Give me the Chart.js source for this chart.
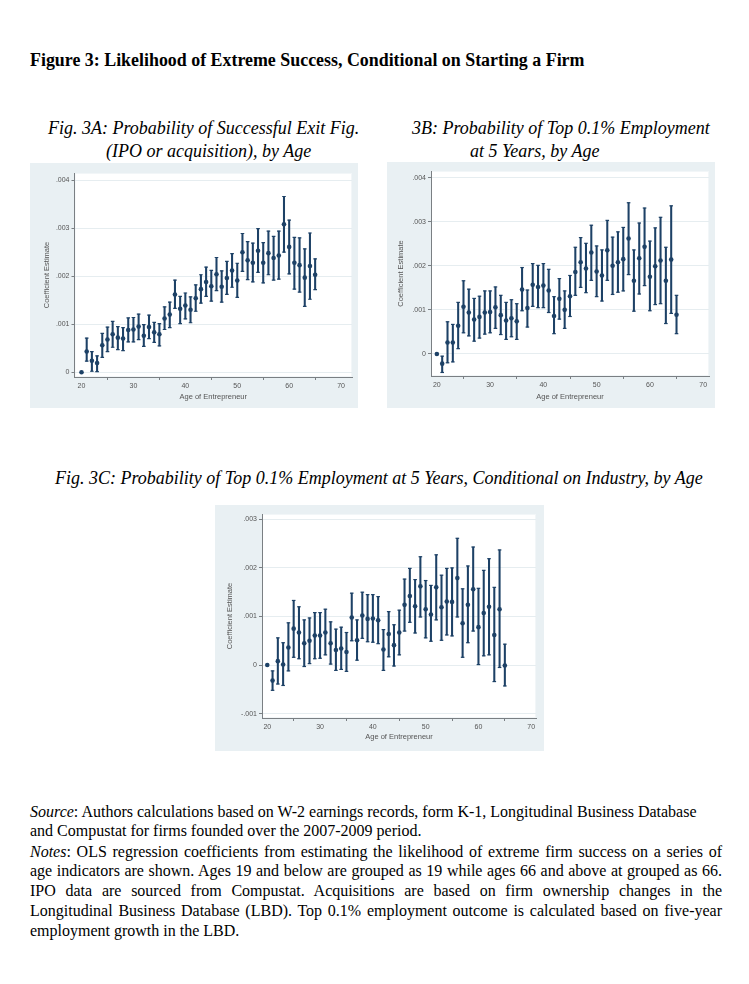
<!DOCTYPE html>
<html>
<head>
<meta charset="utf-8">
<script src="https://cdn.jsdelivr.net/npm/chart.js@4.4.0/dist/chart.umd.min.js"></script>
<style>
  body { margin: 0; background: #fff; width: 749px; height: 984px; position: relative; overflow: hidden; }
  .t { position: absolute; font-family: "Liberation Serif", "Times New Roman", serif; color: #000; white-space: nowrap; }
  .it { font-style: italic; font-size: 18px; line-height: 20px; }
  .note { font-size: 16px; line-height: 20px; left: 30px; width: 692px; }
  .just { text-align: justify; text-align-last: justify; }
  canvas { position: absolute; background: #e9f0f3; }
</style>
</head>
<body>

<div class="t" style="left:30px; top:50px; font-size:17.9px; font-weight:bold; line-height:20px;">Figure 3: Likelihood of Extreme Success, Conditional on Starting a Firm</div>

<div class="t it" style="left:48px; top:118px;">Fig. 3A: Probability of Successful Exit Fig.</div>
<div class="t it" style="left:106px; top:141px;">(IPO or acquisition), by Age</div>
<div class="t it" style="left:412px; top:118px;">3B: Probability of Top 0.1% Employment</div>
<div class="t it" style="left:470px; top:141px;">at 5 Years, by Age</div>
<div class="t it" style="left:55px; top:468px;">Fig. 3C: Probability of Top 0.1% Employment at 5 Years, Conditional on Industry, by Age</div>

<canvas id="chartA" width="328" height="245" style="left:30px; top:163px;"></canvas>
<canvas id="chartB" width="328" height="246" style="left:387px; top:162px;"></canvas>
<canvas id="chartC" width="329" height="246" style="left:215px; top:505px;"></canvas>

<div class="t note" style="top:802px;"><i>Source</i>: Authors calculations based on W-2 earnings records, form K-1, Longitudinal Business Database</div>
<div class="t note" style="top:821px;">and Compustat for firms founded over the 2007-2009 period.</div>
<div class="t note just" style="top:842px;"><i>Notes</i>: OLS regression coefficients from estimating the likelihood of extreme firm success on a series of</div>
<div class="t note just" style="top:861px;">age indicators are shown. Ages 19 and below are grouped as 19 while ages 66 and above at grouped as 66.</div>
<div class="t note just" style="top:881px;">IPO data are sourced from Compustat. Acquisitions are based on firm ownership changes in the</div>
<div class="t note just" style="top:901px;">Longitudinal Business Database (LBD). Top 0.1% employment outcome is calculated based on five-year</div>
<div class="t note" style="top:921px;">employment growth in the LBD.</div>

<script>
const ages = [20, 21, 22, 23, 24, 25, 26, 27, 28, 29, 30, 31, 32, 33, 34, 35, 36, 37, 38, 39, 40, 41, 42,
  43, 44, 45, 46, 47, 48, 49, 50, 51, 52, 53, 54, 55, 56, 57, 58, 59, 60, 61, 62, 63, 64, 65];
const xTicks = [20, 30, 40, 50, 60, 70];

// 3A: successful exit
const aEst = [0, .00043, .00024, .00019, .00056, .00068, .00079, .00072, .0007, .00088, .00089, .00095, .00076,
  .00094, .00083, .00079, .00112, .0012, .00162, .00132, .00139, .0013, .00154, .00173, .00188, .00179,
  .00204, .00178, .00196, .00212, .00191, .0025, .00233, .00228, .00253, .00228, .00248, .00238, .00243,
  .00308, .00261, .00228, .00223, .00197, .00221, .00203];
const aLo = [null, .00023, .00002, .00001, .00031, .00043, .00052, .00047, .00045, .00063, .00063, .00068, .00054,
  .0007, .00062, .00055, .00089, .00093, .00133, .00101, .00111, .00103, .00127, .00144, .00158, .00148,
  .0017, .00146, .00162, .00177, .00156, .0021, .00193, .00188, .00208, .00186, .00203, .00192, .00194,
  .0025, .00205, .00173, .00167, .00137, .00152, .00172];
const aHi = [null, .00071, .00043, .00034, .00081, .00094, .00106, .00095, .00093, .00113, .00114, .00121, .00099,
  .00119, .00104, .00101, .00136, .00146, .00192, .00158, .00165, .00157, .00182, .00203, .00219, .00212,
  .00239, .00211, .00231, .00247, .00227, .00289, .00272, .00269, .00299, .0027, .00294, .00283, .00294,
  .00366, .00317, .00281, .0028, .00257, .0029, .00236];
const aTicks = [0, .001, .002, .003, .004];

// 3B: top 0.1% employment at 5 years
const bEst = [0, -.00022, .00026, .00026, .00064, .00107, .00094, .00078, .00084, .00094, .00095, .00106, .00088,
  .00076, .00081, .00074, .00146, .00104, .00157, .00152, .00155, .00144, .00086, .00125, .001, .00131,
  .00186, .00208, .00194, .0023, .00187, .00178, .00235, .002, .00208, .00215, .00262, .00166, .00217,
  .00243, .00175, .00199, .00212, .00166, .00214, .00089];
const bLo = [null, -.00042, -.0002, -.00018, .00012, .00048, .00041, .00029, .00036, .00045, .00048, .00058, .00044,
  .00033, .00039, .00033, .00098, .00061, .00108, .00105, .00105, .00094, .00046, .00079, .00058, .00085,
  .00133, .00151, .00139, .00167, .0013, .0012, .00167, .00135, .0014, .00143, .0018, .00097, .00136,
  .00155, .00098, .00112, .00114, .00069, .00092, .00046];
const bHi = [null, -.00005, .00073, .00067, .00117, .00166, .00147, .00126, .00131, .00143, .00143, .00152, .00133,
  .00117, .00123, .00114, .00196, .00145, .00205, .00201, .00205, .00192, .0013, .00171, .00143, .00178,
  .00242, .00264, .00251, .00292, .00245, .00236, .00303, .00265, .00277, .00287, .00343, .00236, .00297,
  .00331, .00256, .00286, .0031, .00242, .00336, .00133];
const bTicks = [0, .001, .002, .003, .004];

// 3C: top 0.1% employment, conditional on industry
const cEst = [0, -.00032, .00008, .00001, .00036, .00075, .00067, .00045, .0005, .00061, .00061, .00067, .00045,
  .00031, .00034, .00027, .00098, .00051, .00102, .00095, .00096, .00092, .00032, .00064, .00041, .00067,
  .00124, .00142, .00121, .00162, .00115, .00104, .0016, .00119, .00131, .0013, .00179, .00086, .00124,
  .00156, .00078, .00107, .0012, .00062, .00115, -.00001];
const cLo = [null, -.00052, -.00039, -.00042, -.00012, .00016, .00013, -.00003, .00003, .00013, .00014, .00021, .00002,
  -.00011, -.00009, -.00013, .0005, .0001, .00055, .00048, .00047, .00044, -.00011, .00017, -.00002, .00021,
  .0007, .00088, .00066, .00099, .00056, .00049, .00093, .00051, .00062, .0006, .00099, .00016, .00046,
  .0007, .00001, .00019, .00021, -.00034, -.00005, -.00043];
const cHi = [null, -.00012, .00056, .00046, .00087, .00133, .0012, .00093, .00097, .00108, .00108, .00115, .00089,
  .00074, .00078, .00067, .00148, .00093, .0015, .00145, .00145, .00141, .00073, .0011, .00083, .00113,
  .00177, .00199, .00176, .00223, .00174, .00164, .00227, .00185, .00199, .002, .00261, .00157, .00204,
  .00243, .00158, .00195, .00219, .0016, .00237, .00043];
const cTicks = [-.001, 0, .001, .002, .003];

const navy = "#1d4166";
const axisGrey = "#7a7f83";
const tickFont = { family: "'Liberation Sans', Arial, sans-serif", size: 7 };
const titleFont = { family: "'Liberation Sans', Arial, sans-serif", size: 7.5 };

const whiteArea = {
  id: "whiteArea",
  beforeDraw(chart) {
    const a = chart.chartArea;
    const ctx = chart.ctx;
    ctx.save();
    ctx.fillStyle = "#ffffff";
    ctx.fillRect(a.left, a.top, a.right - a.left, a.bottom - a.top);
    ctx.strokeStyle = "#f2f6f8";
    ctx.lineWidth = 1;
    ctx.strokeRect(a.left + 0.5, a.top + 0.5, a.right - a.left - 1, a.bottom - a.top - 1);
    ctx.restore();
  }
};

function yLabel(v) {
  if (v === 0) return "0";
  return (v < 0 ? "-" : "") + Math.abs(v).toFixed(3).slice(1);
}

function panel(id, est, lo, hi, yTicks, yMin, yMax, xMin, xMax, lay) {
  const bars = [], caps = [], pts = [];
  ages.forEach((a, i) => {
    pts.push({ x: a, y: est[i] });
    if (lo[i] === null) return;
    bars.push({ x: a, y: [lo[i], hi[i]] });
    caps.push({ x: a, y: lo[i] }, { x: a, y: hi[i] });
  });

  new Chart(document.getElementById(id), {
    type: "scatter",
    data: {
      datasets: [
        { type: "scatter", data: pts, pointRadius: 2.3, pointBackgroundColor: navy, pointBorderWidth: 0 },
        { type: "scatter", data: caps, pointStyle: "line", pointRadius: 1.8, pointBorderColor: navy, pointBorderWidth: 1.2 },
        { type: "bar", data: bars, backgroundColor: navy, barThickness: 1.4, grouped: false, borderWidth: 0 }
      ]
    },
    options: {
      responsive: false,
      animation: false,
      layout: { padding: { left: 0, right: lay.right, top: lay.top, bottom: 0 } },
      plugins: { legend: { display: false }, tooltip: { enabled: false } },
      scales: {
        x: {
          type: "linear", min: xMin, max: xMax, offset: false,
          afterBuildTicks: ax => { ax.ticks = xTicks.map(v => ({ value: v })); },
          afterFit: ax => { ax.height = lay.xH; },
          grid: { drawOnChartArea: false, tickLength: 3, tickColor: axisGrey },
          border: { color: axisGrey, width: 1 },
          ticks: { font: tickFont, color: "#555", padding: 1.5, maxRotation: 0 },
          title: { display: true, text: "Age of Entrepreneur", font: titleFont, color: "#555",
                   padding: { top: 0, bottom: lay.xTitle } }
        },
        y: {
          type: "linear", min: yMin, max: yMax,
          afterBuildTicks: ax => { ax.ticks = yTicks.map(v => ({ value: v })); },
          afterFit: ax => { ax.width = lay.yW; },
          grid: { color: "#e6edf0", lineWidth: 1, tickLength: 3, tickColor: axisGrey },
          border: { color: axisGrey, width: 1 },
          ticks: { font: tickFont, color: "#555", padding: 2, callback: yLabel },
          title: { display: true, text: "Coefficient Estimate", font: titleFont, color: "#555",
                   padding: { top: lay.yTitle, bottom: 0 } }
        }
      }
    },
    plugins: [whiteArea]
  });
}

panel("chartA", aEst, aLo, aHi, aTicks, -0.0001, 0.00415, 18.65, 72.1,
  { right: 6, top: 10, xH: 31, yW: 44.5, yTitle: 12.2, xTitle: 6.2 });
panel("chartB", bEst, bLo, bHi, bTicks, -0.0005, 0.00415, 18.9, 71.1,
  { right: 6, top: 9, xH: 32, yW: 44, yTitle: 9.2, xTitle: 6.2 });
panel("chartC", cEst, cLo, cHi, cTicks, -0.00109, 0.00311, 19.0, 70.9,
  { right: 8, top: 9, xH: 33, yW: 47, yTitle: 10.2, xTitle: 9.2 });
</script>
</body>
</html>
